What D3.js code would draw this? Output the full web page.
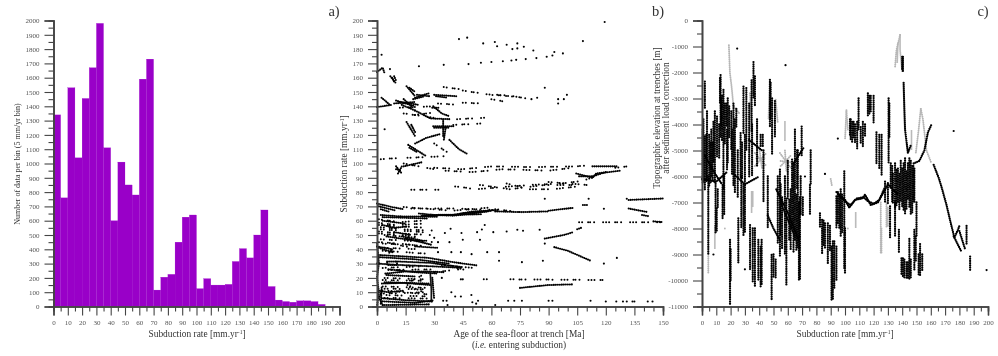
<!DOCTYPE html>
<html>
<head>
<meta charset="utf-8">
<script src="https://cdn.jsdelivr.net/npm/d3@7"></script>
<style>
    html, body { margin: 0; padding: 0; background: #fff; }
    svg { display: block; filter: blur(0.4px); }
    text { font-family: "Liberation Serif", serif; fill: #333; }
    .axis text { font-family: "Liberation Serif", serif; font-size: 7px; fill: #555; }
    .axis path, .axis line { stroke: #444; }
</style>
</head>
<body>
<div id="chart"></div>
<script>
// a) counts per 5 mm/yr bin, starting at 0
const binCounts = [1340, 760, 1530, 1040, 1455, 1670, 1980, 1110, 600, 1010, 850, 780, 1590, 1730,
    115, 205, 225, 450, 625, 640, 125, 195, 150, 150, 155, 315, 405, 340, 500, 675,
    140, 45, 35, 30, 40, 40, 35, 15];

// b) [age, rate] tracks: solid ridges
const ageTracks = [
    [[0, 72], [8, 69.5], [14, 68]], [[1, 70], [10, 67]], [[2, 68], [7, 66]], [[2, 64], [12, 63], [32, 62.8]], [[3, 62.5], [15, 62], [27, 61.5]], [[3, 60], [15, 58]],
    [[1, 36], [14, 35], [27, 34], [40, 31], [53, 28.6]], [[1, 34.5], [20, 33], [38, 30]], [[10, 31.5], [28, 30.5], [45, 27.5]], [[5.3, 31.4], [10.5, 31.4], [10.5, 29], [5.3, 29], [5.3, 31.4]],
    [[0, 30], [12, 29], [30, 28], [45, 27]], [[4.4, 23], [15, 24.5], [27, 24.4], [35, 24]], [[6, 26], [20, 24], [32, 23]], [[5, 22], [20, 21]],
    [[2.6, 16], [14, 16.5], [28, 15]], [[4, 17], [28, 16]], [[1, 11], [6, 10], [14, 11]], [[2.6, 5.8], [14, 4.5], [29, 3.4]], [[3, 3.6], [20, 2.5], [30, 4.4]], [[3, 1], [28, 1.5]],
    [[28, 22], [28.5, 12], [28.5, 3.5]], [[29, 20], [30, 5]], [[0, 0], [1, 10], [0, 20], [1, 30], [0, 45]], [[2, 2], [2.5, 14]], [[3, 1], [1, 6], [3, 12]],
    [[0, 42], [8, 40], [6, 37]], [[1, 41], [8, 38]], [[15, 47.7], [29, 43]], [[13, 49], [24, 46]], [[5, 49], [20, 46], [26, 46]], [[9, 52], [18, 50]], [[3, 57], [9, 55], [16, 56]], [[20, 42], [32, 41]],
    [[23.6, 63.5], [40, 64], [50, 66.4], [64, 67.5]], [[25, 63], [32, 64], [40, 63.5], [50, 65], [60, 67]], [[22, 65], [30, 64], [55, 64.5]], [[44, 65], [58, 66.5]],
    [[62, 66.5], [76, 66], [90, 66.5]], [[90, 67], [103, 69]], [[108, 71], [111, 71]],
    [[88, 47.5], [98, 50], [103, 52]], [[93, 41.5], [100, 39], [112, 32]], [[75, 13], [90, 15], [103, 15.5]],
    [[132, 74.5], [150, 75.5]], [[132, 68.5], [142, 66]], [[139, 64], [143, 63]], [[145, 59.5], [150, 59]], [[105, 54], [107, 55]],
    [[0, 139.5], [8, 141]], [[2.4, 146], [6.8, 141]], [[9, 142], [20, 143]], [[10, 144], [20, 140]], [[13, 141], [20, 137]], [[12, 143], [22, 141]], [[14, 145], [19, 139]],
    [[7, 161], [10, 156]], [[8, 160], [9, 157]], [[9, 161], [10, 158]], [[15.5, 154], [20, 147]], [[17, 153], [20, 150]], [[20, 146], [27, 149]], [[21, 148], [28, 147]], [[19, 145], [25, 147]],
    [[30, 148], [42, 147]], [[31, 147], [37, 146]], [[29.5, 140], [34, 135], [38, 133]], [[29, 139], [33, 139]], [[20, 137], [28, 131.5], [38, 131]], [[15.5, 129], [20, 119]], [[18, 127], [20, 122]],
    [[16.4, 113], [20, 110], [26, 105]], [[17, 111], [21, 108]], [[38, 116.5], [43, 110], [47, 107]], [[20, 114], [26, 118], [33, 120.5]],
    [[29.5, 126], [40, 126]], [[30, 125], [38, 125]], [[34.7, 130.5], [34.7, 118]], [[36, 125], [35, 116]], [[10, 98], [13, 93]], [[11, 93], [13, 98]], [[10, 96], [13, 95]],
    [[14, 98], [24, 101]], [[104.5, 93], [113, 90], [115, 93], [128, 95]], [[113, 91], [120, 94]], [[0, 164], [3, 167], [4, 163]],
    [[113, 98], [126, 98]], [[106, 91], [113, 91]]
];

// b) loosely scattered rows
const ageRows = [
    [[2, 103], [13, 104]], [[16, 104], [35, 105]], [[14, 100], [30, 96]], [[30, 97], [45, 96], [60, 98], [80, 97.5], [104, 98], [113, 99]], [[36, 95], [50, 94], [66, 96], [90, 95], [102, 97]], [[125, 97], [132, 98]],
    [[18, 81.6], [33, 81.6]], [[41, 84], [52, 82], [80, 85], [97, 86], [108, 88], [115, 91]], [[68, 86], [80, 82], [92, 82], [106, 84]], [[54, 85], [70, 82], [88, 85], [104, 85]], [[90, 87], [110, 85]],
    [[45, 151], [60, 148], [70, 147.5], [78, 145.5]], [[35, 153.5], [43, 152]], [[45, 142.5], [55, 142]], [[60, 145], [66, 143.5]], [[63, 148], [76, 146]],
    [[32, 142], [44, 141]], [[12, 139], [30, 140]], [[14, 135], [30, 132]], [[40, 127], [55, 128]], [[42, 131], [57, 132]], [[30, 114], [40, 105]], [[20, 134], [32, 136]],
    [[106, 59], [150, 59]], [[70, 19], [120, 18.5]], [[56, 19], [60, 19]],
    [[1, 61], [12, 59], [24, 60]], [[1, 58.5], [10, 57], [26, 58]], [[1, 57], [25, 55]], [[2, 55.5], [13, 54], [30, 53]], [[2, 54], [24, 52]], [[1, 52.5], [12, 51], [28, 50]], [[1, 51], [20, 49]], [[4, 50], [22, 48]],
    [[2, 47], [30, 45]], [[1, 45], [12, 44], [26, 42]], [[3, 44], [20, 43]], [[3, 39], [25, 37]], [[4, 41], [22, 40]], [[3, 27], [22, 28]], [[6, 25.5], [30, 26]], [[4, 20], [26, 19]], [[3, 18.5], [24, 18]], [[3, 14], [27, 13]], [[4, 12.5], [26, 12]],
    [[5, 8], [27, 7]], [[4, 6], [28, 5.5]], [[2, 9], [26, 10]], [[6, 11], [27, 8.5]], [[16, 15], [26, 9]],
    [[18, 68.5], [40, 68.5], [62, 67.5]], [[14, 69.5], [40, 67], [58, 69]], [[62, 68], [75, 66]], [[30, 24], [44, 26]], [[30, 31], [48, 25]], [[18, 18], [24, 22]], [[8, 44], [18, 41]], [[34, 29], [50, 27]]
];

// b) single points
const agePoints = [[119.4, 199], [108, 185.6], [43, 187], [47.3, 188], [55.7, 184], [61.8, 185], [63, 182], [68, 183], [71, 180], [73.6, 184], [73.6, 180.5],
    [77, 181.6], [82, 179], [2.4, 176], [22, 168], [35, 169], [48, 169.5], [54.5, 170.5], [60, 171], [66, 171.5], [70.5, 172], [73, 172.5], [78, 173], [83.6, 173.7],
    [89, 174.7], [92, 175.5], [93, 178], [97.5, 177], [6.8, 166], [4, 124], [88, 153], [95, 145], [95, 142], [98, 145], [99.6, 148], [81, 145], [84, 146],
    [35.6, 51.4], [38.6, 54.4], [44.3, 51.4], [45, 46.7], [52.5, 52], [55, 53.8], [56.5, 57], [54, 46.7], [61, 52], [68, 52.5], [73.6, 53.7], [76.6, 53], [85.3, 53.7],
    [88, 75.3], [111, 75.3], [131, 75.3], [119, 68.4], [125.8, 34], [119, 30], [76, 31], [64, 32], [64, 38], [57.8, 38], [49.6, 36.6], [44, 38], [39, 38], [32, 38], [87, 32], [88, 44],
    [34.7, 4], [36.5, 4], [68.8, 4], [72, 4], [76, 4], [90, 4], [92, 4], [112, 4], [120, 3.5], [125.5, 3.5], [129, 3.5], [131, 3.5], [134, 3.5], [135, 3.5], [142, 3.5], [144.5, 3.5],
    [62, 1], [37, 1], [41, 7], [44, 7], [49.5, 8], [50, 3], [52, 2], [53, 4], [39, 10], [44, 19], [45, 19], [34, 20], [32, 45], [38, 45], [30, 48]];

// c) [rate, top, bottom] black columns of trench points
const elevColumns = [[0.5, -4200, -6300], [1, -3800, -6200], [2, -2350, -3050], [2, -3100, -3400], [2, -4460, -6500], [3, -4400, -6250], [3.5, -3500, -6200], [4.4, -6000, -9000], [5, -4400, -6400], [6, -4700, -6300], [6.5, -4200, -6000], [7.5, -4700, -6200],
    [8, -3900, -5500], [9, -3500, -6250], [9.5, -6200, -8200], [10.3, -7230, -8120], [10.5, -3700, -5230], [11, -6500, -7200], [12, -4000, -5300], [12.6, -2220, -3180], [13, -2100, -4500], [13.5, -3000, -4100], [14, -2900, -4600], [14.4, -6330, -7610], [15, -2670, -6500], [15.5, -6000, -7500],
    [16, -3200, -4800], [17, -3200, -4080], [17.5, -4200, -5800], [18, -3000, -5500], [19, -3300, -4500], [19.6, -8440, -10940], [20, -8800, -10000], [20.5, -3500, -5000], [21, -4200, -5900], [22, -3200, -6400], [23, -3800, -6600], [24, -3400, -4100], [25, -5000, -6800], [25.4, -7610, -9340],
    [27, -4330, -6100], [27.5, -6000, -8000], [28, -4700, -6100], [29, -2540, -4330], [29, -6300, -8300], [30, -4400, -8200], [31, -2600, -5000], [33, -3200, -6000], [33.6, -7870, -9600], [34.7, -2300, -4330], [35, -4000, -6000], [35.5, -8000, -10040], [36, -1600, -3000], [37, -2150, -3300], [37, -8000, -10200], [38.5, -3800, -5600], [39.4, -8440, -10000],
    [41, -8700, -10300], [41, -4400, -4900], [41.7, -8440, -10170], [42.5, -4400, -4900], [43, -5000, -7000], [46, -6000, -8000], [47.5, -2280, -4080], [48, -2400, -3800], [48.7, -9020, -10750], [49, -3000, -5200], [50, -9000, -9900], [51, -3100, -4460], [51.5, -9200, -9900],
    [53, -6000, -8600], [54.5, -5740, -9080], [55, -6300, -8300], [56, -6800, -8800], [58, -6000, -9000], [59, -6850, -10230], [60, -5400, -6900], [61, -6900, -8500], [62, -6500, -8800], [63, -5350, -8000], [64, -5500, -8900], [65, -4200, -8500], [66, -6700, -8900],
    [66.5, -5000, -6500], [67, -5000, -8800], [67.8, -7000, -9980], [68.5, -6800, -10000], [69, -6000, -7500], [69.7, -4080, -5230], [70.5, -6800, -7500], [75.5, -6330, -7480], [76, -5000, -6300],
    [82.5, -7420, -8000], [84, -7670, -9000], [85, -7700, -8700], [86, -7800, -8800], [88, -7800, -9400], [89.5, -7900, -8900], [90.6, -8700, -10740], [91.5, -8500, -10700], [92.5, -8500, -10300], [94, -8700, -10000],
    [94, -6770, -8000], [95, -6600, -7800], [96, -6700, -8000], [97, -6500, -8300], [98, -6700, -8200], [99.5, -5800, -9600], [100, -8000, -9700], [103.5, -3800, -4400], [104, -3800, -4600],
    [105, -3900, -4700], [106, -3900, -4500], [107, -4000, -4700], [108.5, -3900, -5000], [109.5, -3000, -4200], [111, -4100, -4700], [112.5, -3900, -4900], [114, -4000, -4500], [116, -2800, -3700], [117, -2900, -3600],
    [118, -2900, -3500], [120, -2900, -4000], [122, -4300, -5500], [124, -4400, -5700], [125.6, -4400, -6000], [128, -6200, -7000], [130.5, -3000, -5500], [131, -3200, -4500], [132, -5500, -6500], [130, -6260, -7030], [133.5, -5900, -7030],
    [131.5, -7150, -8350], [135, -7000, -8300], [137.7, -8050, -8900], [139.5, -9150, -9800], [140.5, -9150, -9850], [141.5, -9200, -9900], [143, -9300, -9950], [144, -9300, -9950], [145, -8400, -9950], [146, -9200, -9900],
    [148.5, -8050, -9600], [149.5, -8300, -9300], [150, -7000, -8300], [151.5, -9000, -9800], [152.5, -8600, -9800], [154, -9000, -9600], [133, -5600, -7000], [135, -5500, -7200], [136, -5750, -7160], [137, -5700, -7000], [138, -5900, -7300],
    [139, -5400, -7000], [140, -5700, -7200], [141, -5500, -7300], [142, -5300, -7500], [143, -5800, -7300], [144, -5500, -6900], [145, -5300, -7200], [146, -5400, -7500], [147, -5600, -7400], [147.8, -5600, -7000],
    [148.5, -5700, -7000], [185, -7900, -8650], [187.5, -9080, -9600]];

// c) black tracks that wander
const elevTracks = [[[46, -7500], [50, -8000], [55, -8500]], [[52, -6500], [60, -7400], [68, -8500]], [[55, -7000], [65, -8300]], [[2, -5200], [8, -5800], [14, -6300]],
    [[0, -6100], [10, -6200], [18, -5800]], [[22, -5900], [30, -6300], [40, -6000]], [[33, -4600], [42, -5000]], [[64, -5500], [71, -4900]],
    [[94, -6600], [100, -6900], [103, -7200], [107, -6900], [112, -6850], [114, -6700], [118, -7100], [123, -7000], [125, -6800], [130, -6300], [137, -6700]],
    [[96, -6750], [101, -7000], [104, -7100], [108, -6850], [113, -6800], [116, -6950], [120, -7050], [124, -6900], [128, -6400]],
    [[140, -1400], [140, -1900]], [[140.5, -1400], [140.5, -1950]], [[141, -2400], [141.5, -3400], [142, -4200], [144, -5100], [146, -4800]], [[148, -5500], [152, -5400], [155.5, -5000], [158, -4300], [160.5, -4000]],
    [[162, -5550], [165.5, -6050], [167.5, -6400], [171, -7100], [174, -7800], [176.5, -8350], [179, -8050], [180, -7900]], [[176, -8300], [181.5, -8900]], [[180, -8100], [184, -8800]]];

// c) grey points, drawn underneath
const greyTracks = [[[18.8, -950], [19.5, -2000], [20.7, -2550], [22, -3300], [26.5, -3600]], [[33.5, -2800], [35, -4350]], [[47.5, -2300], [46.5, -3800]], [[51.5, -3050], [53, -3950]],
    [[58, -3900], [58, -4600]], [[37, -5100], [45, -5600]], [[37, -5600], [45, -5100]], [[38, -5300], [44, -5300]], [[40, -4900], [42, -5700]], [[54.5, -5100], [62.5, -5700]], [[55, -5600], [62, -5200]], [[55, -5400], [62, -5450]], [[58, -5000], [59, -5800]],
    [[4.4, -9000], [4.4, -9700]], [[9, -7900], [9, -8800]], [[34.7, -6600], [34.7, -7400]], [[35.5, -6600], [35.5, -7200]], [[138.5, -560], [136, -1130], [135, -1800]], [[138.5, -560], [138.5, -1130], [140, -2000]], [[137, -900], [136.5, -1600]],
    [[153, -3400], [151.5, -4200], [149.5, -5100]], [[153, -3400], [154.5, -3800], [157, -5000], [160.5, -5500]], [[146.5, -4250], [146.5, -5000]], [[101, -3450], [100, -4600]], [[101, -3500], [102, -4200]],
    [[125, -7000], [125, -9000]], [[125.5, -8000], [125.5, -9000]], [[129, -7000], [129, -8000]], [[130, -7200], [130, -7900]], [[107.5, -7400], [107.5, -8000]], [[90, -6100], [91, -6400]]];

// c) single points
const elevPoints = [[24.6, -1080], [58.4, -1720], [176, -4250], [95, -4540], [86, -5900], [199, -9600], [8, -9000], [30, -9570], [72, -6000]];
const elevGreyPoints = [[16, -8000], [102, -8000]];

const chartWidth = 998;
const chartHeight = 356;

const plotTop = 20.5;
const plotBottom = 306.5;
const axisSpan = 286;

const svg = d3.select("#chart").append("svg")
    .attr("width", chartWidth)
    .attr("height", chartHeight);

// draw major and minor ticks on one x or y axis
function drawAxis(axisFn, scale, major, minor, translate) {
    const g = svg.append("g").attr("class", "axis").attr("transform", translate);
    g.call(axisFn(scale).tickValues(minor).tickSize(5).tickFormat(""));
    g.select("path").attr("stroke-width", 1.6);
    g.selectAll("line").attr("stroke-width", 1.1);
    const g2 = svg.append("g").attr("class", "axis").attr("transform", translate);
    g2.call(axisFn(scale).tickValues(major).tickSize(9).tickPadding(5).tickFormat(d => d));
    g2.select("path").attr("stroke-width", 1.6);
    g2.selectAll("line").attr("stroke-width", 1.1);
}

function rateLabel(x, y, rotate) {
    const t = svg.append("text")
        .attr("transform", `translate(${x},${y})` + (rotate ? " rotate(-90)" : ""))
        .attr("text-anchor", "middle")
        .attr("font-size", 9.4);
    t.append("tspan").text("Subduction rate [mm.yr");
    t.append("tspan").attr("dy", -3).attr("font-size", 5.5).text("-1");
    t.append("tspan").attr("dy", 3).text("]");
}

function plainText(x, y, label, size, rotate) {
    return svg.append("text")
        .attr("transform", `translate(${x},${y})` + (rotate ? " rotate(-90)" : ""))
        .attr("text-anchor", "middle")
        .attr("font-size", size)
        .text(label);
}

const lineOf = (x, y) => d3.line().x(d => x(d[0])).y(d => y(d[1]));

// a) histogram
const xA = d3.scaleLinear().domain([0, 200]).range([53.5, 53.5 + axisSpan]);
const yA = d3.scaleLinear().domain([0, 2000]).range([plotBottom, plotTop]);

svg.append("g").selectAll("rect")
    .data(binCounts)
    .join("rect")
    .attr("x", (d, i) => xA(i * 5))
    .attr("width", xA(5) - xA(0))
    .attr("y", d => yA(d))
    .attr("height", d => yA(0) - yA(d))
    .attr("fill", "#9900c8")
    .attr("stroke", "#9900c8")
    .attr("stroke-width", 0.2);

drawAxis(d3.axisLeft, yA, d3.range(0, 2001, 100), d3.range(50, 2000, 100), `translate(53.5,0)`);
drawAxis(d3.axisBottom, xA, d3.range(0, 201, 10), d3.range(5, 200, 10), `translate(0,${plotBottom})`);
plainText(20, 164, "Number of data per bin (5 mm/yr bin)", 8, true);
rateLabel(197, 337, false);
plainText(334, 16, "a)", 14.5);

// b) age vs rate
const xB = d3.scaleLinear().domain([0, 150]).range([377, 377 + axisSpan]);
const yB = d3.scaleLinear().domain([0, 200]).range([plotBottom, plotTop]);
const lineB = lineOf(xB, yB);

svg.append("g").selectAll("path")
    .data(ageTracks)
    .join("path")
    .attr("d", lineB)
    .attr("fill", "none")
    .attr("stroke", "#000")
    .attr("stroke-width", 2.1)
    .attr("stroke-linecap", "round")
    .attr("stroke-dasharray", "0 2");

svg.append("g").selectAll("path")
    .data(ageRows)
    .join("path")
    .attr("d", lineB)
    .attr("fill", "none")
    .attr("stroke", "#000")
    .attr("stroke-width", 2)
    .attr("stroke-linecap", "round")
    .attr("stroke-dasharray", "0 3 0 6 0 2 0 4 0 9 0 3");

svg.append("g").selectAll("circle")
    .data(agePoints)
    .join("circle")
    .attr("cx", d => xB(d[0]))
    .attr("cy", d => yB(d[1]))
    .attr("r", 1.05)
    .attr("fill", "#000");

drawAxis(d3.axisLeft, yB, d3.range(0, 201, 10), d3.range(5, 200, 10), `translate(377,0)`);
drawAxis(d3.axisBottom, xB, d3.range(0, 151, 15), d3.range(5, 150, 5).filter(d => d % 15 !== 0), `translate(0,${plotBottom})`);
rateLabel(347, 164, true);
plainText(519, 337, "Age of the sea-floor at trench [Ma]", 9.4);
const ie = plainText(519, 348, "", 9.4);
ie.append("tspan").text("(");
ie.append("tspan").attr("font-style", "italic").text("i.e.");
ie.append("tspan").text(" entering subduction)");
plainText(658, 16, "b)", 14.5);

// c) rate vs elevation
const xC = d3.scaleLinear().domain([0, 200]).range([702, 702 + axisSpan]);
const yC = d3.scaleLinear().domain([-11000, 0]).range([plotBottom, plotTop]);
const lineC = lineOf(xC, yC);

svg.append("g").selectAll("path")
    .data(greyTracks)
    .join("path")
    .attr("d", lineC)
    .attr("fill", "none")
    .attr("stroke", "#b5b5b5")
    .attr("stroke-width", 2)
    .attr("stroke-linecap", "round")
    .attr("stroke-dasharray", "0 2");

svg.append("g").selectAll("circle.grey")
    .data(elevGreyPoints)
    .join("circle")
    .attr("class", "grey")
    .attr("cx", d => xC(d[0]))
    .attr("cy", d => yC(d[1]))
    .attr("r", 0.9)
    .attr("fill", "#b5b5b5");

svg.append("g").selectAll("path")
    .data(elevColumns)
    .join("path")
    .attr("d", d => lineC([[d[0], d[1]], [d[0], d[2]]]))
    .attr("fill", "none")
    .attr("stroke", "#000")
    .attr("stroke-width", 2.3)
    .attr("stroke-linecap", "round")
    .attr("stroke-dasharray", "0 2.2");

svg.append("g").selectAll("path")
    .data(elevTracks)
    .join("path")
    .attr("d", lineC)
    .attr("fill", "none")
    .attr("stroke", "#000")
    .attr("stroke-width", 2.3)
    .attr("stroke-linecap", "round")
    .attr("stroke-dasharray", "0 2");

svg.append("g").selectAll("circle.black")
    .data(elevPoints)
    .join("circle")
    .attr("class", "black")
    .attr("cx", d => xC(d[0]))
    .attr("cy", d => yC(d[1]))
    .attr("r", 1.1)
    .attr("fill", "#000");

drawAxis(d3.axisLeft, yC, d3.range(-11000, 1, 1000), d3.range(-10500, 0, 1000), `translate(702,0)`);
drawAxis(d3.axisBottom, xC, d3.range(0, 201, 10), d3.range(5, 200, 10), `translate(0,${plotBottom})`);
plainText(660, 118, "Topographic elevation at trenches [m]", 9.3, true);
plainText(668.5, 118, "after sediment load correction", 9.3, true);
rateLabel(845, 337, false);
plainText(983, 16, "c)", 14.5);
</script>
</body>
</html>
